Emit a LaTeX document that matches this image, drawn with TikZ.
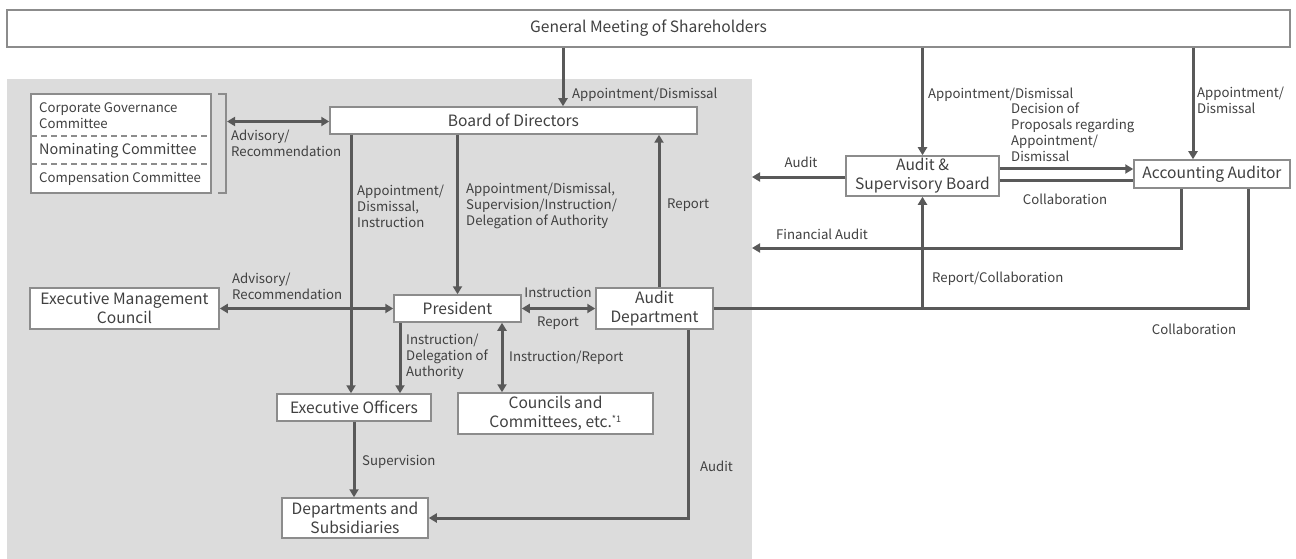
\documentclass[tikz,border=0pt]{standalone}
\usepackage{fontspec}
\setmainfont{Noto Sans CJK JP}
\usetikzlibrary{arrows.meta}
\definecolor{bgc}{HTML}{DCDCDC}
\definecolor{lnc}{HTML}{595959}
\definecolor{bdc}{HTML}{8C8C8C}
\definecolor{txc}{HTML}{404040}
\newcommand\bxf{\fontsize{15.6}{19}\selectfont}
\newcommand\lbf{\fontsize{13.2}{16}\selectfont}
\tikzset{
  box/.style={draw=bdc, line width=1.5pt, fill=white, text=txc, font=\bxf, inner sep=0pt, align=center},
  lab/.style={text=txc, font=\lbf, inner sep=0pt, align=left},
  con/.style={draw=lnc, line width=3pt},
  arr/.style={con, -{Triangle[length=8pt,width=9pt]}},
  darr/.style={con, {Triangle[length=8pt,width=9pt]}-{Triangle[length=8pt,width=9pt]}},
}
\begin{document}
\begin{tikzpicture}[x=1pt,y=-1pt]
\useasboundingbox (0,0) rectangle (1296,559);
\fill[white] (0,0) rectangle (1296,559);
\fill[bgc] (7,79) rectangle (752,559);

% nodes
\node[box, minimum width=1283pt, minimum height=37pt] (gms) at (648.5,28.5) {General Meeting of Shareholders};
\node[box, minimum width=180pt, minimum height=99pt] (comm) at (121,143.5) {};
\draw[bdc, line width=1.2pt, dash pattern=on 6pt off 4pt] (31,136) -- (211,136);
\draw[bdc, line width=1.2pt, dash pattern=on 6pt off 4pt] (31,164) -- (211,164);
\node[lab, anchor=west] (cg) at (39,116) {Corporate Governance\\Committee};
\node[lab, anchor=west, font=\fontsize{14.4}{16}\selectfont] (nc) at (39,151) {Nominating Committee};
\node[lab, anchor=west] (cc2) at (39,179) {Compensation Committee};
\draw[bdc, line width=1.2pt] (218,94) -- (226,94) -- (226,193) -- (218,193);
\coordinate (brk) at (227,121.5);

\node[box, minimum width=367pt, minimum height=27pt] (board) at (513.5,120.5) {Board of Directors};
\node[box, minimum width=153pt, minimum height=40pt] (asb) at (922.5,176) {Audit \&\\Supervisory Board};
\node[box, minimum width=156pt, minimum height=28pt] (aa) at (1212,174) {Accounting Auditor};
\node[box, minimum width=189pt, minimum height=41pt] (emc) at (124.5,308.5) {Executive Management\\Council};
\node[box, minimum width=127pt, minimum height=27pt] (pres) at (457.5,308.5) {President};
\node[box, minimum width=117pt, minimum height=41pt] (ad) at (654.5,308.5) {Audit\\Department};
\node[box, minimum width=154pt, minimum height=27pt] (eo) at (354,407.5) {Executive Officers};
\node[box, minimum width=195pt, minimum height=41pt] (cc) at (555.5,413.5) {Councils and\\Committees, etc.\textsuperscript{\fontsize{9}{9}\selectfont *1}};
\node[box, minimum width=146pt, minimum height=40pt] (dep) at (355,518) {Departments and\\Subsidiaries};

% helper coordinates
\coordinate (xA) at (563,0);
\coordinate (xB) at (1193,0);
\coordinate (xEO) at (351,0);
\coordinate (xRep) at (659,0);
\coordinate (xPE) at (400,0);
\coordinate (xPC) at (502,0);
\coordinate (xAud) at (688,0);
\coordinate (xFin) at (1181,0);
\coordinate (xCol) at (1248,0);
\coordinate (edge) at (752,0);
\coordinate (yAud) at (0,177);
\coordinate (yDec) at (0,169);
\coordinate (yCol) at (0,180);
\coordinate (yFin) at (0,248);

% connectors
\draw[arr] (gms.south -| xA) -- (board.north -| xA);
\draw[arr] (gms.south -| asb.north) -- (asb.north);
\draw[arr] (gms.south -| xB) -- (aa.north -| xB);
\draw[darr] (brk) -- (brk -| board.west);
\draw[arr] (board.south -| xEO) -- (eo.north -| xEO);
\draw[arr] (board.south -| pres.north) -- (pres.north);
\draw[arr] (ad.north -| xRep) -- (board.south -| xRep);
\draw[darr] (emc.east) -- (pres.west);
\draw[darr] (pres.east) -- (ad.west);
\draw[arr] (pres.south -| xPE) -- (eo.north -| xPE);
\draw[darr] (pres.south -| xPC) -- (cc.north -| xPC);
\draw[arr] (eo.south) -- (eo.south |- dep.north);
\draw[arr] (ad.south -| xAud) |- (dep.east);
\draw[arr] (asb.west |- yAud) -- (edge |- yAud);
\draw[arr] (asb.east |- yDec) -- (aa.west |- yDec);
\draw[con] (asb.east |- yCol) -- (aa.west |- yCol);
\draw[arr] (aa.south -| xFin) |- (edge |- yFin);
\draw[con] (ad.east) -| (aa.south -| xCol);
\draw[arr] (asb.south |- ad.east) -- (asb.south);

% labels
\node[lab, anchor=west] (l1) at (572,95) {Appointment/Dismissal};
\node[lab, anchor=west] (l2) at (928,95) {Appointment/Dismissal};
\node[lab, anchor=west] (l3) at (1197,100) {Appointment/\\Dismissal};
\node[lab, anchor=west] (l4) at (231,143.5) {Advisory/\\Recommendation};
\node[lab, anchor=west] (l5) at (357,206) {Appointment/\\Dismissal,\\Instruction};
\node[lab, anchor=west] (l6) at (466,206) {Appointment/Dismissal,\\Supervision/Instruction/\\Delegation of Authority};
\node[lab, anchor=west] (l7) at (667,205) {Report};
\node[lab] (l8) at (801,162) {Audit};
\node[lab, anchor=west] (l9) at (1011,132) {Decision of\\Proposals regarding\\Appointment/\\Dismissal};
\node[lab] (l10) at (1065,199) {Collaboration};
\node[lab, anchor=west] (l11) at (776,234) {Financial Audit};
\node[lab, anchor=west] (l12) at (932,279) {Report/Collaboration};
\node[lab] (l13) at (1194,329) {Collaboration};
\node[lab, anchor=west] (l14) at (232,286) {Advisory/\\Recommendation};
\node[lab] (l15) at (558,292) {Instruction};
\node[lab] (l16) at (558,323) {Report};
\node[lab, anchor=west] (l17) at (406,357) {Instruction/\\Delegation of\\Authority};
\node[lab, anchor=west] (l18) at (509,358) {Instruction/Report};
\node[lab, anchor=west] (l19) at (362,462) {Supervision};
\node[lab, anchor=west] (l20) at (700,466) {Audit};
\end{tikzpicture}
\end{document}
